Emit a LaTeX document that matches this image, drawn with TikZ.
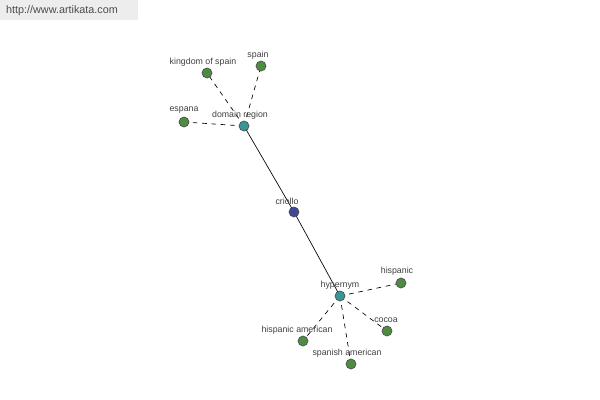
\documentclass[tikz,border=0pt]{standalone}
\usepackage{fontspec}
\setmainfont{Liberation Sans}
\begin{document}
\begin{tikzpicture}[x=0.75pt,y=-0.75pt,
  dot/.style={circle,draw=black!70,line width=0.5pt,minimum size=7.5pt,inner sep=0pt},
  leaf/.style={dot,fill=leafgreen},
  hub/.style={dot,fill=hubteal},
  root/.style={dot,fill=rootblue},
  lbl/.style={font=\fontsize{6.6}{8}\selectfont,text=black!75,inner sep=0pt},
  solidedge/.style={draw=black,line width=0.5pt},
  dashedge/.style={draw=black,line width=0.5pt,dash pattern=on 3.5pt off 3.5pt}]
\definecolor{leafgreen}{RGB}{78,140,66}
\definecolor{hubteal}{RGB}{58,150,150}
\definecolor{rootblue}{RGB}{62,72,155}
\useasboundingbox (0,0) rectangle (600,400);
\fill[black!7] (0,0) rectangle (138,20);
\node[font=\fontsize{8.1}{10}\selectfont,text=black!70,inner sep=0pt] (url) at (62,11) {http://www.artikata.com};
% coordinates
\coordinate (c) at (294,212);
\coordinate (d) at (244,126);
\coordinate (h) at (340,296);
\coordinate (k) at (207,73);
\coordinate (s) at (261,66);
\coordinate (e) at (184,122);
\coordinate (hi) at (401,283);
\coordinate (co) at (387,331);
\coordinate (ha) at (303,341);
\coordinate (sa) at (351,364);
% edges
\draw[solidedge] (d) -- (c);
\draw[solidedge] (c) -- (h);
\draw[dashedge] (d) -- (k);
\draw[dashedge] (d) -- (s);
\draw[dashedge] (d) -- (e);
\draw[dashedge] (h) -- (hi);
\draw[dashedge] (h) -- (co);
\draw[dashedge] (h) -- (ha);
\draw[dashedge] (h) -- (sa);
% nodes
\node[root] (nc) at (c) {};
\node[hub] (nd) at (d) {};
\node[hub] (nh) at (h) {};
\node[leaf] (nk) at (k) {};
\node[leaf] (ns) at (s) {};
\node[leaf] (ne) at (e) {};
\node[leaf] (nhi) at (hi) {};
\node[leaf] (nco) at (co) {};
\node[leaf] (nha) at (ha) {};
\node[leaf] (nsa) at (sa) {};
% labels
\node[lbl] (lc) at (287,201) {criollo};
\node[lbl] (ld) at (240,115) {domain region};
\node[lbl] (lh) at (340,285) {hypernym};
\node[lbl] (lk) at (203,62) {kingdom of spain};
\node[lbl] (ls) at (258,55) {spain};
\node[lbl] (le) at (184,110) {espana};
\node[lbl] (lhi) at (397,271) {hispanic};
\node[lbl] (lco) at (386,320) {cocoa};
\node[lbl] (lha) at (297,330) {hispanic american};
\node[lbl] (lsa) at (347,353) {spanish american};
\end{tikzpicture}
\end{document}
